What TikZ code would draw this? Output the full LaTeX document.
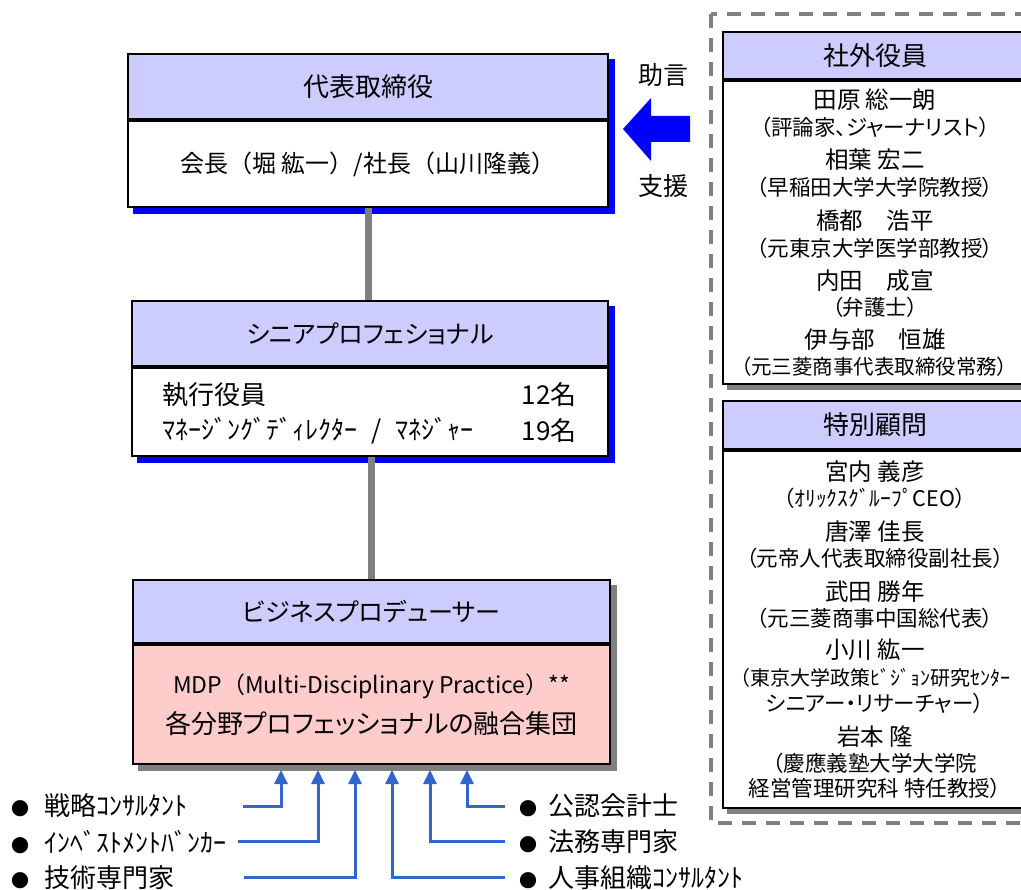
\documentclass[tikz,border=0pt]{standalone}
\usepackage{fontspec}
\setmainfont{Noto Sans CJK JP}
\newfontfamily\pjp[RawFeature=+palt]{Noto Sans CJK JP}
\usetikzlibrary{backgrounds,calc,arrows.meta}
\definecolor{hdrfill}{RGB}{204,204,255}
\definecolor{pinkfill}{RGB}{255,204,204}
\definecolor{linegray}{RGB}{128,128,128}
\definecolor{shadowgray}{RGB}{128,128,128}
\definecolor{arrowblue}{RGB}{51,102,204}
\tikzset{
  hdr/.style={draw=black, line width=1.8pt, fill=hdrfill, inner sep=0pt, font=\fontsize{26}{28}\selectfont},
  hdrk/.style={hdr, font=\pjp\fontsize{25}{27}\selectfont},
  bodyw/.style={draw=black, line width=1.8pt, fill=white, inner sep=0pt},
  bodyp/.style={draw=black, line width=1.8pt, fill=pinkfill, inner sep=0pt},
  txt/.style={inner sep=0pt, font=\fontsize{24}{26}\selectfont},
  txtb/.style={inner sep=0pt, font=\fontsize{26}{28}\selectfont},
  nm/.style={inner sep=0pt, font=\pjp\fontsize{23.5}{25}\selectfont},
  sb/.style={inner sep=0pt, font=\pjp\fontsize{21.5}{23}\selectfont},
  gline/.style={draw=linegray, line width=7pt},
  barrow/.style={draw=arrowblue, line width=3pt, -{Triangle[width=13pt,length=14pt]}},
  dashbox/.style={draw=linegray, line width=3.5pt, dash pattern=on 14pt off 10pt},
}
\newcommand{\blt}{{\fontsize{18}{18}\selectfont ●}}
\begin{document}
\begin{tikzpicture}[x=1pt,y=-1pt]
\useasboundingbox (0,0) rectangle (1021,890);

% dashed frame
\draw[dashbox] (711,14) rectangle (1045,823);

% box 1
\node[hdr, minimum width=480pt, minimum height=65pt] (b1h) at (368,86.5) {代表取締役};
\node[bodyw, minimum width=480pt, minimum height=86pt, anchor=north] (b1b) at (b1h.south) {};
\node[txt] (b1t) at (368,164) {会長（堀 紘一）/社長（山川隆義）};

% box 2
\node[hdrk, minimum width=476pt, minimum height=65pt] (b2h) at (370,333.5) {シニアプロフェショナル};
\node[bodyw, minimum width=476pt, minimum height=88pt, anchor=north] (b2b) at (b2h.south) {};
\node[txtb, anchor=west] (b2l1) at (162,395) {執行役員};
\node[txtb, anchor=east] (b2r1) at (577,395) {12名};
\node[txtb, anchor=west] (b2l2) at (162,431) {ﾏﾈｰｼﾞﾝｸﾞﾃﾞｨﾚｸﾀｰ\hspace{14pt}/\hspace{14pt}ﾏﾈｼﾞｬｰ};
\node[txtb, anchor=east] (b2r2) at (577,431) {19名};

% box 3
\node[hdrk, minimum width=477pt, minimum height=63pt] (b3h) at (371.5,611.5) {ビジネスプロデューサー};
\node[bodyp, minimum width=477pt, minimum height=119pt, anchor=north] (b3b) at (b3h.south) {};
\node[inner sep=0pt, font=\fontsize{23}{25}\selectfont] (b3t1) at (371.5,686) {MDP（Multi-Disciplinary Practice）**};
\node[inner sep=0pt, font=\pjp\fontsize{26}{28}\selectfont] (b3t2) at (371.5,724) {各分野プロフェッショナルの融合集団};

% right box A
\node[hdr, minimum width=304pt, minimum height=47pt] (rah) at (875,55.5) {社外役員};
\node[bodyw, minimum width=304pt, minimum height=303pt, anchor=north] (rab) at (rah.south) {};
\node[nm] (a1) at (875,100) {田原 総一朗};
\node[sb] (a2) at (875,127) {（評論家、ジャーナリスト）};
\node[nm] (a3) at (875,160) {相葉 宏二};
\node[sb] (a4) at (875,187) {（早稲田大学大学院教授）};
\node[nm] (a5) at (875,221) {橋都　浩平};
\node[sb] (a6) at (875,248) {（元東京大学医学部教授）};
\node[nm] (a7) at (875,281) {内田　成宣};
\node[sb] (a8) at (875,307) {（弁護士）};
\node[nm] (a9) at (875,340) {伊与部　恒雄};
\node[sb, font=\pjp\fontsize{20.5}{22}\selectfont] (a10) at (874,367) {（元三菱商事代表取締役常務）};

% right box B
\node[hdr, minimum width=304pt, minimum height=48pt] (rbh) at (875,425) {特別顧問};
\node[bodyw, minimum width=304pt, minimum height=357pt, anchor=north] (rbb) at (rbh.south) {};
\node[nm] (c1) at (875,472) {宮内 義彦};
\node[sb] (c2) at (875,498) {（ｵﾘｯｸｽｸﾞﾙｰﾌﾟCEO）};
\node[nm] (c3) at (875,532) {唐澤 佳長};
\node[sb] (c4) at (875,558) {（元帝人代表取締役副社長）};
\node[nm] (c5) at (875,592) {武田 勝年};
\node[sb] (c6) at (875,618) {（元三菱商事中国総代表）};
\node[nm] (c7) at (875,650) {小川 紘一};
\node[sb, font=\pjp\fontsize{20}{22}\selectfont] (c8) at (875,678) {（東京大学政策ﾋﾞｼﾞｮﾝ研究ｾﾝﾀｰ};
\node[sb] (c9) at (875,703) {シニアー・リサーチャー）};
\node[nm] (c10) at (875,737) {岩本 隆};
\node[sb] (c11) at (875,763) {（慶應義塾大学大学院};
\node[sb] (c12) at (875,788) {経営管理研究科 特任教授）};

% shadows
\begin{scope}[on background layer]
\fill[blue] ($(b1h.north west)+(6,6)$) rectangle ($(b1b.south east)+(6,6)$);
\fill[blue] ($(b2h.north west)+(6,6)$) rectangle ($(b2b.south east)+(6,6)$);
\fill[shadowgray] ($(b3h.north west)+(6,6)$) rectangle ($(b3b.south east)+(6,6)$);
\fill[shadowgray] ($(rah.north west)+(5,5)$) rectangle ($(rab.south east)+(5,5)$);
\fill[shadowgray] ($(rbh.north west)+(5,5)$) rectangle ($(rbb.south east)+(5,5)$);
\end{scope}

% gray connectors
\draw[gline] (b1b.south) -- (b1b.south |- b2h.north);
\draw[gline] (b2b.south -| b3h.north) -- (b3h.north);

% big arrow and labels
\fill[blue] (623,129) -- (651,98) -- (651,116) -- (690,116) -- (690,142) -- (651,142) -- (651,161) -- cycle;
\node[inner sep=0pt, font=\fontsize{25}{27}\selectfont] (lab1) at (663,75) {助言};
\node[inner sep=0pt, font=\fontsize{25}{27}\selectfont] (lab2) at (663,186) {支援};

% bottom items
\node[txtb, anchor=west] (l1) at (11,806) {\blt\hspace{15pt}戦略ｺﾝｻﾙﾀﾝﾄ};
\node[txtb, anchor=west] (l2) at (11,842) {\blt\hspace{15pt}ｲﾝﾍﾞｽﾄﾒﾝﾄﾊﾞﾝｶｰ};
\node[txtb, anchor=west] (l3) at (11,878) {\blt\hspace{15pt}技術専門家};
\node[txtb, anchor=west] (r1) at (519,806) {\blt\hspace{11pt}公認会計士};
\node[txtb, anchor=west] (r2) at (519,842) {\blt\hspace{11pt}法務専門家};
\node[txtb, anchor=west] (r3) at (519,878) {\blt\hspace{11pt}人事組織ｺﾝｻﾙﾀﾝﾄ};

\coordinate (s1) at (243,806);
\coordinate (s2) at (238,841);
\coordinate (s3) at (244,877);
\coordinate (s4) at (505,806);
\coordinate (s5) at (505,841);
\coordinate (s6) at (505,877);
\coordinate (t1) at (281,770);
\coordinate (t2) at (318,770);
\coordinate (t3) at (355,770);
\coordinate (t4) at (467,770);
\coordinate (t5) at (430,770);
\coordinate (t6) at (392,770);
\draw[barrow] (s1) -| (t1);
\draw[barrow] (s2) -| (t2);
\draw[barrow] (s3) -| (t3);
\draw[barrow] (s4) -| (t4);
\draw[barrow] (s5) -| (t5);
\draw[barrow] (s6) -| (t6);
\end{tikzpicture}
\end{document}
